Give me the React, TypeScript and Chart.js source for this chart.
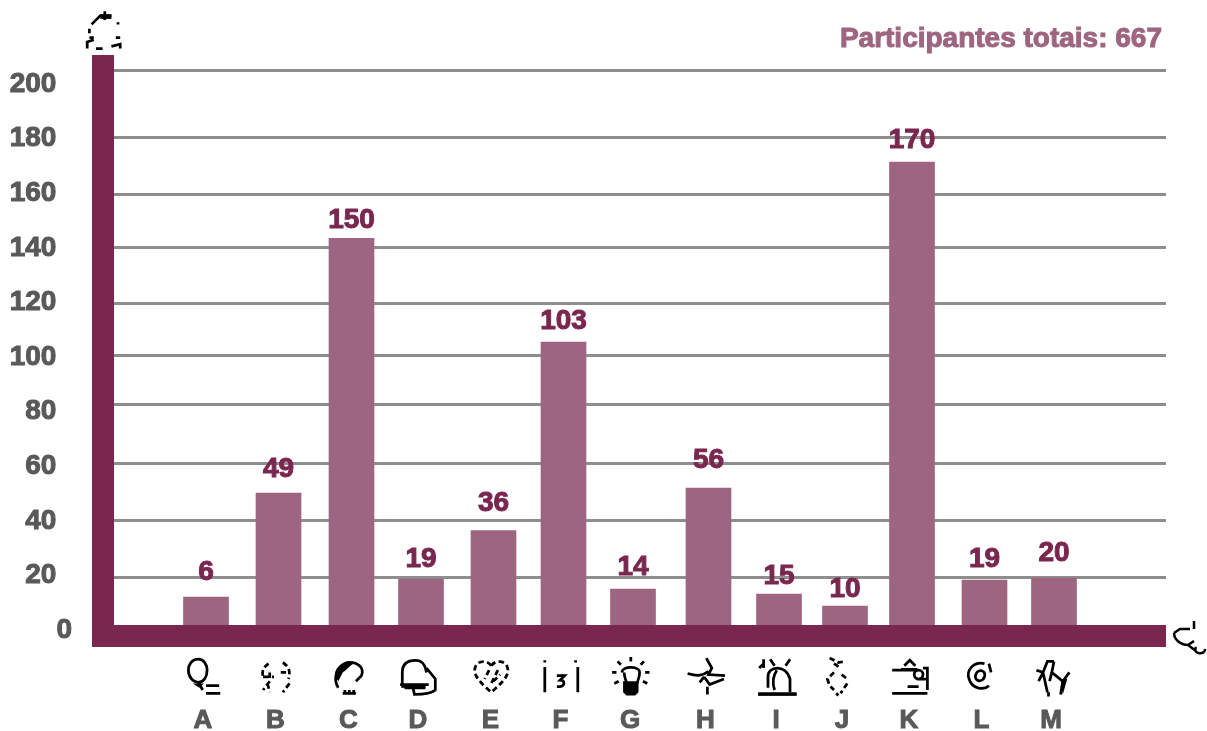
import React, { useEffect, useRef } from "react";
import { Chart, registerables, CategoryScale } from "chart.js";

const categories = ["A", "B", "C", "D", "E", "F", "G", "H", "I", "J", "K", "L", "M"];
// Bar heights as drawn, in axis units
const barValues = [10.6, 48.7, 142, 17.2, 35, 104, 13.5, 50.5, 11.7, 7.3, 170, 16.8, 17.6];
// Numbers printed above the bars
const printedValues = [6, 49, 150, 19, 36, 103, 14, 56, 15, 10, 170, 19, 20];
const totalLabel = "Participantes totais: 667";
// Horizontal rules do not coincide with the tick labels in the reference
const gridValues = [203.5, 179, 158, 138.5, 118, 99, 81, 59.7, 38.8, 17.6];
const axisMax = 209.2;

// Layout of the irregular category axis and label lifts
const leadIn = 92;
const centreGaps = [72.5, 73, 69.5, 72.5, 70, 69.5, 75.5, 70.5, 66, 67, 72.5, 69.5];
const labelLift = [27, 26, 20, 22, 29, 23, 24, 30, 20, 19, 24, 23, 27];

const PLUM = "#7a2750";
const MAUVE = "#9e6580";
const GREY = "#595959";
const RULE = "#8e8e8e";
const FONT = '"Liberation Sans", Arial, sans-serif';

class IrregularCategoryScale extends CategoryScale {
  static id = "irregularCategory";
  static defaults = {};
  getPixelForValue(value: any) {
    const i = typeof value === "number" ? value : (this as any).parse(value);
    let px = (this as any).left + leadIn;
    for (let k = 0; k < i && k < centreGaps.length; k++) px += centreGaps[k];
    return px;
  }
}
Chart.register(...registerables, IrregularCategoryScale as any);

// Pictograms in a 36x36 box: [stroke path, fill path, dash]
const icons: [string, string, boolean][] = [
  ["M13 2C7 2 4 7 4 12C4 18 8 23 13 23C18 23 21 18 21 12C21 7 18 2 13 2M13 23L17 30M20 26H32M20 33H33", "M8 24H18L14 28Z", false],
  ["M11 6C5 10 5 14 6 18M6 18H16M12 14V22L6 30M10 24L12 32M24 5C30 9 31 14 29 20M22 14H28M30 24L24 32", "", true],
  ["M8 28C3 20 6 8 16 5C26 4 32 10 29 17L24 22M12 33H24M14 30V33M18 30V33M22 30V33", "M5 18C4 9 13 3 22 6C18 8 16 12 12 14L8 22Z", false],
  ["M3 25V14C3 5 9 3 15 3C22 3 24 8 25 14M1 25H27M5 28H24M25 10L33 20V30C30 33 24 34 14 34L13 29", "M2 25H24V28H2Z", false],
  ["M18 8C14 2 4 3 3 11C2 18 10 25 18 32C26 25 34 18 33 11C32 3 22 2 18 8M16 12L12 20M24 12L18 24L26 16", "", true],
  ["M3 9V32M33 9V32M3 3V5M31 3V5M14 17H21L17 21C21 21 22 26 17 27H14", "", false],
  ["M18 0V4M6 4L9 7M30 4L27 7M1 14H5M31 14H35M3 24L7 22M33 24L29 22M10 14C10 8 26 8 26 14C26 19 24 21 24 24M12 14C12 19 14 21 14 24", "M11 22H25V32L22 35H14L11 32Z", false],
  ["M18 1L23 10L20 16L35 17M1 15C8 17 14 18 20 13M16 18L21 25L34 20M16 18L12 23M19 27V34", "", false],
  ["M2 10L6 6M6 2V10M12 2L16 8M30 2L26 8M10 28V18C10 8 26 6 30 20V32M18 12C14 18 14 24 16 30M1 34H36", "M1 32H36V35H1Z", false],
  ["M6 1L14 5L20 4M10 6L16 10M17 16L22 20M10 14L4 20L6 26L10 30M22 24L16 33M12 33L14 35", "", true],
  ["M2 12H24M13 8L18 3L23 8M30 10H34V30M2 33H34M24 20H34M16 27H26M22 16A4 4 0 1 0 30 16A4 4 0 1 0 22 16", "M10 10H25V12H10Z", false],
  ["M20 6C10 4 3 12 6 20C9 30 20 30 24 26M24 6L26 14M12 16C14 10 22 12 20 18C18 24 10 22 12 16", "", false],
  ["M4 12L10 14L14 4L20 4M20 4L18 14L28 22L34 14M10 14L14 32M18 14L16 22M28 22L26 34M10 14L6 22M15 32V36", "M26 20H32L28 34Z", false],
];
const yAxisIcon = "M6 14L14 6H24M18 2V10M30 12V14M4 22V18M8 26H4M32 26H28M2 36V30L8 28M10 36H16M24 34L32 32V36";
const xAxisIcon = "M22 2V10M2 14L8 10H18M2 14C2 20 8 26 16 26L22 22M16 26L24 32M24 28C20 36 34 36 33 30";

const drawPath = (ctx: any, x: number, y: number, d: string, fill = "", dash = false, k = 1) => {
  ctx.save();
  ctx.translate(x, y);
  ctx.scale(k, k);
  ctx.strokeStyle = "#000";
  ctx.fillStyle = "#000";
  ctx.lineWidth = 2.5;
  if (dash) ctx.setLineDash([5, 3]);
  ctx.stroke(new Path2D(d));
  if (fill) ctx.fill(new Path2D(fill));
  ctx.restore();
};

const heavyText = (ctx: any, text: string, x: number, y: number, color: string) => {
  ctx.fillStyle = color;
  ctx.strokeStyle = color;
  ctx.lineWidth = 1;
  ctx.fillText(text, x, y);
  ctx.strokeText(text, x, y);
};

const decorations = {
  id: "decorations",
  afterDatasetsDraw(chart: any) {
    const { ctx, chartArea: a, scales } = chart;
    const meta = chart.getDatasetMeta(0);
    ctx.save();
    // Thick axis bars
    ctx.fillStyle = PLUM;
    ctx.fillRect(a.left - 22, a.top, 22, a.bottom + 21 - a.top);
    ctx.fillRect(a.left - 22, a.bottom - 1, a.right - a.left + 22, 22);
    // Printed values
    ctx.font = `bold 28px ${FONT}`;
    ctx.textAlign = "center";
    ctx.textBaseline = "middle";
    meta.data.forEach((bar: any, i: number) => {
      heavyText(ctx, String(printedValues[i]), bar.x, bar.y - labelLift[i] + 2, PLUM);
    });
    // Total participants
    ctx.textAlign = "right";
    heavyText(ctx, totalLabel, a.right - 4, a.top - 16, MAUVE);
    ctx.restore();
    // Pictograms
    categories.forEach((_, i) => {
      const [d, f, dash] = icons[i];
      drawPath(ctx, scales.x.getPixelForValue(i) - 22, a.bottom + 31, d, f, dash, 1.1);
    });
    drawPath(ctx, a.left - 29, a.top - 46, yAxisIcon, "M14 5H24V9H14Z", false, 1.1);
    drawPath(ctx, a.right + 6, a.bottom - 7, xAxisIcon, "", false);
  },
};

export default function App() {
  const ref = useRef<HTMLCanvasElement | null>(null);
  useEffect(() => {
    const chart = new Chart(ref.current as any, {
      type: "bar",
      data: {
        labels: categories,
        datasets: [{ data: barValues, backgroundColor: MAUVE, barThickness: 45, borderWidth: 0 }],
      },
      plugins: [decorations],
      options: {
        animation: false,
        responsive: false,
        maintainAspectRatio: false,
        layout: { padding: { top: 55, right: 41, left: 0, bottom: 0 } },
        plugins: { legend: { display: false }, tooltip: { enabled: false }, title: { display: false } },
        scales: {
          x: {
            type: "irregularCategory" as any,
            grid: { display: false, drawTicks: false },
            border: { display: false },
            afterFit: (s: any) => { s.height = 105; s.paddingLeft = 0; s.paddingRight = 0; },
            ticks: {
              autoSkip: false, maxRotation: 0, minRotation: 0, padding: 79, labelOffset: -3,
              color: GREY, textStrokeColor: GREY, textStrokeWidth: 1,
              font: { family: FONT, size: 26, weight: "bold" },
            },
          },
          y: {
            type: "linear", position: "left", min: 0, max: axisMax,
            grid: { display: false, drawTicks: false },
            border: { display: false },
            afterFit: (s: any) => { s.width = 114; s.paddingTop = 0; s.paddingBottom = 0; },
            ticks: {
              stepSize: 20, includeBounds: false, padding: 42, labelOffset: 4, color: GREY,
              textStrokeColor: GREY, textStrokeWidth: 1,
              font: { family: FONT, size: 28, weight: "bold" },
              callback: (v: any) => (v === 0 ? "0" : `${v}\u00a0\u00a0`),
            },
          },
          gridY: {
            type: "linear", position: "left", min: 0, max: axisMax,
            grid: { color: RULE, lineWidth: 3, drawTicks: false },
            border: { display: false },
            afterBuildTicks: (s: any) => { s.ticks = gridValues.map((value) => ({ value })); },
            afterFit: (s: any) => { s.width = 0; s.paddingTop = 0; s.paddingBottom = 0; },
            ticks: { display: false },
          },
        },
      } as any,
    });
    return () => chart.destroy();
  }, []);
  return (
    <div style={{ position: "absolute", left: 0, top: 0, width: 1207, height: 731, background: "#fff" }}>
      <canvas ref={ref} width={1207} height={731} style={{ display: "block" }} />
    </div>
  );
}
